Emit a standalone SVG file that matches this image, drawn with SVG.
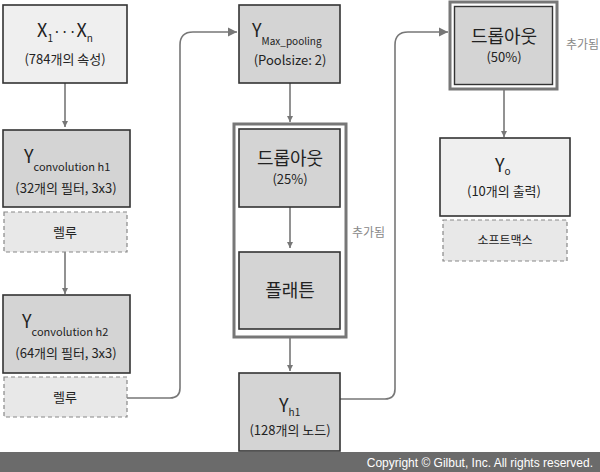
<svg xmlns="http://www.w3.org/2000/svg" width="600" height="472" viewBox="0 0 600 472">
<style>
.t{font-family:"Noto Sans CJK KR","Noto Sans",sans-serif;fill:#222;text-anchor:middle}
.s{font-family:"Noto Sans CJK KR","Noto Sans",sans-serif;fill:#222;text-anchor:start}
.lt{fill:#efefef;stroke:#333;stroke-width:1.6}
.dk{fill:#d4d4d4;stroke:#333;stroke-width:1.6}
.dash{fill:#e8e8e8;stroke:#888;stroke-width:1.2;stroke-dasharray:4 3}
.grp{fill:none;stroke:#777;stroke-width:3}
.c{fill:none;stroke:#777;stroke-width:1.6}
.big{font-size:18px}
.mid{font-size:13px}
.sm{font-size:12px}
.sub{font-size:10px}
.note{font-family:"Noto Sans CJK KR","Noto Sans",sans-serif;fill:#888;font-size:12px}
</style>
<defs>
<marker id="ah" viewBox="0 0 10 10" refX="10" refY="5" markerWidth="6" markerHeight="6" markerUnits="userSpaceOnUse" orient="auto">
<path d="M0,0 L10,5 L0,10 z" fill="#777"/>
</marker>
<marker id="ah2" viewBox="0 0 10 10" refX="10" refY="5" markerWidth="9" markerHeight="12" markerUnits="userSpaceOnUse" orient="auto">
<path d="M0,0 L10,5 L0,10 z" fill="#777"/>
</marker>
</defs>
<rect width="600" height="472" fill="#fff"/>

<g id="connectors">
<line class="c" x1="65" y1="83" x2="65" y2="127" marker-end="url(#ah)"/>
<line class="c" x1="65" y1="252" x2="65" y2="294" marker-end="url(#ah)"/>
<path class="c" d="M127,398 H170 Q180,398 180,388 V45 Q180,32 193,32 H237" marker-end="url(#ah2)"/>
<line class="c" x1="290" y1="83" x2="290" y2="122" marker-end="url(#ah)"/>
<line class="c" x1="290" y1="207" x2="290" y2="248" marker-end="url(#ah)"/>
<line class="c" x1="290" y1="337" x2="290" y2="371" marker-end="url(#ah)"/>
<path class="c" d="M340,399 H385 Q395,399 395,389 V45 Q395,32 408,32 H448" marker-end="url(#ah2)"/>
<line class="c" x1="504" y1="89" x2="504" y2="137" marker-end="url(#ah)"/>
</g>

<g id="n_x">
<rect class="lt" x="3" y="5" width="124" height="78"/>
<text class="t" x="65" y="37" font-size="18">X<tspan class="sub" dy="5">1</tspan><tspan dy="-5" font-size="14">···</tspan>X<tspan class="sub" dy="5">n</tspan></text>
<text class="t mid" x="65" y="64">(784개의 속성)</text>
</g>

<g id="n_conv1">
<rect class="dk" x="3" y="130" width="127" height="77"/>
<text class="s" x="24" y="163" font-size="18">Y<tspan dy="8" font-size="11">convolution h1</tspan></text>
<text class="t mid" x="66" y="193">(32개의 필터, 3x3)</text>
</g>
<g id="n_relu1">
<rect class="dash" x="4" y="212" width="123" height="40"/>
<text class="t mid" x="65" y="237">렐루</text>
</g>

<g id="n_conv2">
<rect class="dk" x="3" y="295" width="127" height="78"/>
<text class="s" x="22" y="328" font-size="18">Y<tspan dy="8" font-size="11">convolution h2</tspan></text>
<text class="t mid" x="66" y="358">(64개의 필터, 3x3)</text>
</g>
<g id="n_relu2">
<rect class="dash" x="4" y="377" width="123" height="40"/>
<text class="t mid" x="65" y="402">렐루</text>
</g>

<g id="n_pool">
<rect class="dk" x="239" y="5" width="101" height="78"/>
<text class="s" x="252" y="37" font-size="18">Y<tspan dy="8" font-size="10">Max_pooling</tspan></text>
<text class="t mid" x="290" y="65">(Poolsize: 2)</text>
</g>

<g id="g_added1">
<rect class="grp" x="234" y="124" width="112" height="213"/>
<text class="note" x="352" y="237">추가됨</text>
</g>

<g id="n_drop25">
<rect class="dk" x="239" y="129" width="101" height="78"/>
<text class="t big" x="290" y="165">드롭아웃</text>
<text class="t mid" x="290" y="184">(25%)</text>
</g>

<g id="n_flatten">
<rect class="dk" x="239" y="252" width="101" height="77"/>
<text class="t big" x="290" y="297">플래튼</text>
</g>

<g id="n_hl">
<rect class="dk" x="239" y="373" width="101" height="78"/>
<text class="s" x="279" y="412" font-size="18">Y<tspan dy="4" font-size="10">h1</tspan></text>
<text class="t mid" x="290" y="435">(128개의 노드)</text>
</g>

<g id="n_drop50">
<rect class="grp" x="450" y="2" width="107" height="87"/>
<rect fill="#d4d4d4" stroke="#333" stroke-width="1.4" x="454.5" y="6.5" width="98" height="78"/>
<text class="t big" x="504" y="43">드롭아웃</text>
<text class="t mid" x="504" y="62">(50%)</text>
<text class="note" x="566" y="49">추가됨</text>
</g>

<g id="n_out">
<rect class="lt" x="440" y="138" width="130" height="78"/>
<text class="s" x="495" y="172" font-size="18">Y<tspan dy="3" font-size="10">o</tspan></text>
<text class="t mid" x="504" y="196">(10개의 출력)</text>
</g>
<g id="n_softmax">
<rect class="dash" x="443" y="220" width="124" height="41"/>
<text class="t sm" x="505" y="245">소프트맥스</text>
</g>

<g id="footer">
<rect x="0" y="452" width="600" height="20" fill="#6b6b6b"/>
<text x="593" y="467" font-family="Liberation Sans,Arial,sans-serif" font-size="12" fill="#fff" text-anchor="end">Copyright © Gilbut, Inc. All rights reserved.</text>
</g>
</svg>
